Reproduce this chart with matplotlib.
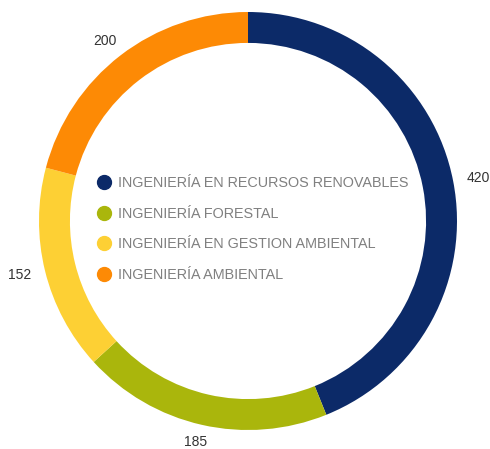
import matplotlib.pyplot as plt
from matplotlib.lines import Line2D
import numpy as np

# ---- data ----
categories = ["INGENIERÍA EN RECURSOS RENOVABLES", "INGENIERÍA FORESTAL",
              "INGENIERÍA EN GESTION AMBIENTAL", "INGENIERÍA AMBIENTAL"]
values = [420, 185, 152, 200]
colors = ["#0c2a68", "#aab60c", "#fdd034", "#fd8a05"]

plt.rcParams['font.family'] = ['Liberation Sans', 'DejaVu Sans']

W, H = 490, 449
fig = plt.figure(figsize=(W / 100, H / 100), dpi=100)
ax = fig.add_axes([0, 0, 1, 1])

# donut centre / radius in pixels
cx, cy, R = 248, 221, 209

wedges, _ = ax.pie(values, colors=colors, startangle=90, counterclock=False,
                   radius=1.0, wedgeprops=dict(width=0.148, linewidth=0))

# value labels just outside the ring
total = float(sum(values))
cum = 0
for v in values:
    mid = (cum + v / 2) / total
    ang = np.deg2rad(90 - 360 * mid)
    r = 1 + 11.0 / R
    x = r * np.cos(ang) + 15.0 / R * np.cos(ang)
    y = r * np.sin(ang) + 7.0 / R * np.sin(ang)
    ax.text(x, y, str(v), ha="center", va="center",
            fontsize=10, color="#333333")
    cum += v

handles = [Line2D([], [], marker="o", linestyle="none", markersize=10,
                  markerfacecolor=c, markeredgecolor=c) for c in colors]
leg = ax.legend(handles, categories, loc="upper left", frameon=False,
                bbox_to_anchor=(88 / W, 1 - 169 / H),
                bbox_transform=fig.transFigure,
                fontsize=10.4, labelspacing=1.15, handletextpad=0.35,
                handlelength=1.2, borderpad=0)
for t in leg.get_texts():
    t.set_color("#808080")

ax.set_xlim((0 - cx) / R, (W - cx) / R)
ax.set_ylim((cy - H) / R, cy / R)
ax.set_aspect('auto')
ax.axis('off')

plt.savefig('out.png', dpi=100)
